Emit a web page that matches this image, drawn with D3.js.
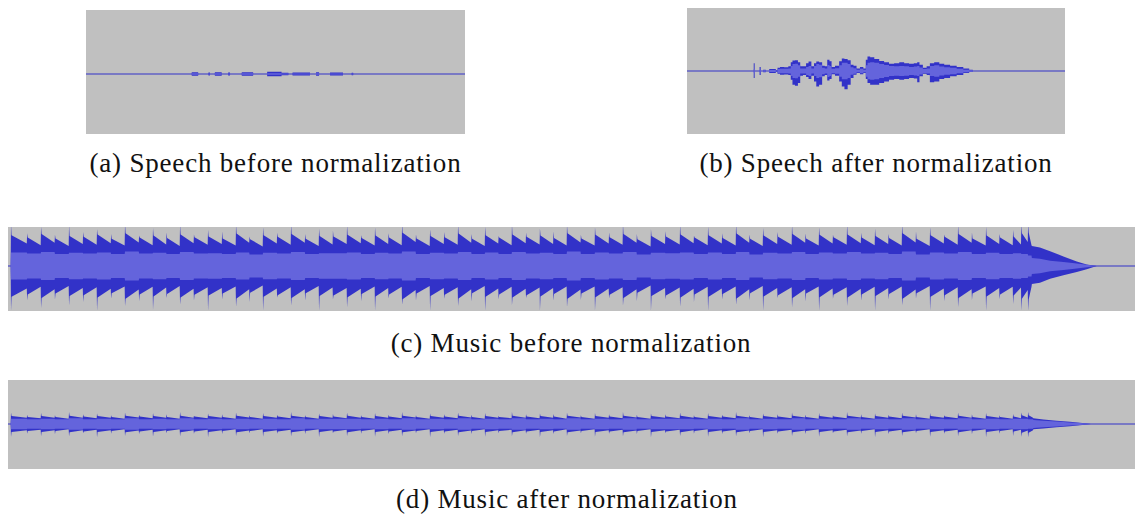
<!DOCTYPE html>
<html>
<head>
<meta charset="utf-8">
<script src="https://cdn.jsdelivr.net/npm/d3@7"></script>
<style>
  html, body { margin: 0; padding: 0; background: #fff; }
  .caption { font-family: "Liberation Serif", "DejaVu Serif", serif; font-size: 27px; letter-spacing: 0.8px; fill: #111; }
</style>
</head>
<body>
<div id="vis"></div>
<script>
var W = 1135,
    H = 517,
    waveDark = "#3232c8",
    waveLight = "#6464dc",
    trackBg = "#c0c0c0";

// (a) speech before normalization: bursts (seconds) and their peak level
const speechBeforeStart = [2.79, 3.23, 3.40, 3.75, 4.11, 4.78, 5.16, 5.45, 6.07, 6.44, 7.01];
const speechBeforeEnd   = [2.96, 3.27, 3.58, 3.80, 4.41, 5.16, 5.34, 5.91, 6.15, 6.78, 7.05];
const speechBeforePeak  = [0.03, 0.025, 0.03, 0.025, 0.03, 0.035, 0.02, 0.025, 0.03, 0.025, 0.02];

// (b) speech after normalization: envelope samples (seconds, max, |min|, rms)
const speechAfterTime = [
  0, 1.75, 1.78, 1.80, 1.82, 1.91, 1.93, 1.97, 2.06, 2.11,
  2.24, 2.33, 2.37, 2.42, 2.50, 2.64, 2.72, 2.77, 2.81, 2.90,
  2.97, 3.02, 3.12, 3.18, 3.25, 3.33, 3.39, 3.45, 3.54, 3.61,
  3.68, 3.74, 3.80, 3.85, 3.98, 4.07, 4.12, 4.21, 4.29, 4.37,
  4.44, 4.53, 4.62, 4.71, 4.75, 4.80, 4.89, 5.02, 5.15, 5.28,
  5.41, 5.55, 5.68, 5.81, 5.94, 6.06, 6.12, 6.18, 6.30, 6.38,
  6.47, 6.61, 6.74, 6.87, 7.05, 7.22, 7.40, 7.53, 7.59, 10];
const speechAfterMax = [
  0, 0, 0.125, 0, 0, 0, 0.065, 0, 0.02, 0,
  0.03, 0.03, 0.01, 0.05, 0.065, 0.06, 0.075, 0.14, 0.165, 0.17,
  0.14, 0.075, 0.075, 0.125, 0.15, 0.075, 0.125, 0.15, 0.14, 0.085,
  0.075, 0.18, 0.155, 0.065, 0.085, 0.155, 0.20, 0.19, 0.17, 0.10,
  0.085, 0.04, 0.065, 0.04, 0.18, 0.23, 0.22, 0.19, 0.16, 0.14,
  0.115, 0.125, 0.14, 0.125, 0.115, 0.125, 0.14, 0.10, 0.05, 0.075,
  0.125, 0.14, 0.115, 0.10, 0.085, 0.065, 0.04, 0.02, 0, 0];
const speechAfterMin = [
  0, 0, 0.11, 0, 0, 0, 0.065, 0, 0.02, 0,
  0.03, 0.03, 0.01, 0.045, 0.06, 0.055, 0.065, 0.14, 0.22, 0.235,
  0.19, 0.075, 0.065, 0.095, 0.125, 0.075, 0.165, 0.245, 0.22, 0.085,
  0.065, 0.15, 0.125, 0.05, 0.075, 0.165, 0.245, 0.29, 0.22, 0.11,
  0.06, 0.03, 0.05, 0.03, 0.125, 0.19, 0.22, 0.22, 0.19, 0.165,
  0.14, 0.125, 0.14, 0.125, 0.11, 0.12, 0.18, 0.085, 0.045, 0.065,
  0.18, 0.165, 0.125, 0.11, 0.085, 0.065, 0.03, 0.01, 0, 0];
const speechAfterRms = [
  0, 0, 0.03, 0, 0, 0, 0.02, 0, 0.01, 0,
  0.015, 0.015, 0.005, 0.03, 0.035, 0.035, 0.04, 0.08, 0.11, 0.115,
  0.09, 0.04, 0.04, 0.065, 0.08, 0.04, 0.08, 0.11, 0.10, 0.05,
  0.04, 0.095, 0.08, 0.035, 0.045, 0.09, 0.13, 0.13, 0.11, 0.06,
  0.045, 0.02, 0.035, 0.02, 0.09, 0.13, 0.14, 0.13, 0.11, 0.095,
  0.08, 0.075, 0.08, 0.075, 0.065, 0.07, 0.08, 0.055, 0.03, 0.04,
  0.08, 0.09, 0.07, 0.06, 0.05, 0.035, 0.02, 0.01, 0, 0];

// music: beat onsets (seconds), shared by (c) and (d)
const musicOnsets = [
  0.16, 1.02, 1.76, 2.50, 3.25, 4.00, 4.74, 5.49, 6.23, 6.98,
  7.72, 8.44, 9.16, 9.90, 10.65, 11.40, 12.14, 12.86, 13.58, 14.33,
  15.07, 15.82, 16.56, 17.30, 18.05, 18.80, 19.54, 20.26, 20.98, 21.72,
  22.47, 23.22, 23.96, 24.68, 25.40, 26.12, 26.83, 27.58, 28.32, 29.04,
  29.76, 30.50, 31.25, 32.00, 32.74, 33.48, 34.23, 35.00, 35.78, 36.52,
  37.27, 38.02, 38.76, 39.48, 40.20, 40.97, 41.74, 42.46, 43.18, 43.92,
  44.67, 45.42, 46.16, 46.88, 47.60, 48.34, 49.09, 49.84, 50.58, 51.32,
  52.07, 52.79, 53.51, 53.95, 54.31];

// (c) music before normalization, per beat: spike up, spike down, level after spike, level before next beat, rms
const musicBeforeTop = [
  1.05, 0.82, 0.98, 0.78, 1.02, 0.85, 0.92, 0.80, 1.05, 0.76,
  0.95, 0.84, 1.03, 0.79, 0.90, 0.86, 1.02, 0.74, 0.97, 0.83,
  1.04, 0.80, 0.93, 0.88, 1.02, 0.77, 0.96, 0.82, 1.05, 0.79,
  0.91, 0.85, 1.03, 0.80, 0.98, 0.75, 1.04, 0.83, 0.94, 0.86,
  1.02, 0.78, 0.97, 0.84, 1.05, 0.80, 0.92, 0.87, 1.03, 0.76,
  0.99, 0.82, 1.04, 0.79, 0.95, 0.85, 1.02, 0.81, 0.96, 0.78,
  1.05, 0.83, 0.93, 0.80, 1.03, 0.86, 0.97, 0.79, 1.02, 0.84,
  0.98, 0.80, 0.90, 1.05, 1.05];
const musicBeforeBottom = [
  1.12, 0.86, 1.05, 0.84, 0.98, 0.90, 1.12, 0.82, 1.00, 0.88,
  1.10, 0.80, 0.96, 0.86, 1.12, 0.84, 1.02, 0.90, 1.12, 0.79,
  0.99, 0.87, 1.12, 0.83, 1.04, 0.88, 1.12, 0.81, 0.97, 0.86,
  1.12, 0.82, 1.00, 0.89, 1.12, 0.84, 0.98, 0.80, 1.12, 0.87,
  1.03, 0.85, 1.12, 0.81, 0.99, 0.88, 1.12, 0.83, 1.02, 0.90,
  1.12, 0.84, 0.97, 0.86, 1.12, 0.80, 1.04, 0.89, 1.12, 0.82,
  1.00, 0.87, 1.12, 0.84, 0.98, 0.81, 1.12, 0.88, 1.03, 0.85,
  1.12, 0.83, 0.95, 1.12, 1.12];
const musicBeforeBody = [
  0.77, 0.71, 0.80, 0.69, 0.75, 0.73, 0.79, 0.68, 0.82, 0.71,
  0.76, 0.70, 0.79, 0.72, 0.74, 0.69, 0.81, 0.67, 0.77, 0.73,
  0.80, 0.68, 0.75, 0.74, 0.78, 0.70, 0.76, 0.71, 0.83, 0.69,
  0.75, 0.72, 0.81, 0.68, 0.77, 0.71, 0.79, 0.73, 0.76, 0.70,
  0.82, 0.69, 0.78, 0.72, 0.80, 0.67, 0.75, 0.74, 0.79, 0.71,
  0.77, 0.70, 0.81, 0.68, 0.76, 0.73, 0.80, 0.69, 0.78, 0.72,
  0.79, 0.71, 0.75, 0.70, 0.82, 0.68, 0.77, 0.73, 0.80, 0.69,
  0.76, 0.71, 0.74, 0.82, 0.84];
const musicBeforeTail = [
  0.56, 0.52, 0.58, 0.50, 0.55, 0.53, 0.57, 0.51, 0.59, 0.52,
  0.54, 0.50, 0.57, 0.53, 0.55, 0.51, 0.58, 0.49, 0.56, 0.53,
  0.58, 0.50, 0.54, 0.55, 0.57, 0.51, 0.55, 0.52, 0.60, 0.50,
  0.55, 0.53, 0.58, 0.50, 0.56, 0.52, 0.57, 0.54, 0.55, 0.51,
  0.59, 0.51, 0.56, 0.53, 0.58, 0.49, 0.55, 0.54, 0.57, 0.52,
  0.56, 0.51, 0.58, 0.50, 0.55, 0.53, 0.58, 0.51, 0.56, 0.53,
  0.57, 0.52, 0.55, 0.51, 0.59, 0.50, 0.56, 0.53, 0.58, 0.51,
  0.55, 0.52, 0.54, 0.60, 0.52];
const musicBeforeRms = [
  0.34, 0.31, 0.35, 0.30, 0.33, 0.31, 0.34, 0.30, 0.36, 0.31,
  0.33, 0.30, 0.35, 0.31, 0.32, 0.30, 0.34, 0.29, 0.33, 0.31,
  0.35, 0.30, 0.32, 0.32, 0.34, 0.30, 0.33, 0.31, 0.36, 0.30,
  0.33, 0.31, 0.35, 0.30, 0.34, 0.30, 0.35, 0.31, 0.33, 0.30,
  0.36, 0.30, 0.34, 0.31, 0.35, 0.29, 0.33, 0.32, 0.34, 0.30,
  0.34, 0.30, 0.35, 0.29, 0.33, 0.31, 0.35, 0.30, 0.34, 0.31,
  0.35, 0.31, 0.33, 0.30, 0.36, 0.29, 0.34, 0.31, 0.35, 0.30,
  0.33, 0.30, 0.32, 0.30, 0.26];
// fade out after the last hit
const musicBeforeFadeTime   = [54.51, 54.94, 55.48, 56.19, 56.90, 57.43, 57.96];
const musicBeforeFadeTop    = [0.50, 0.46, 0.37, 0.24, 0.11, 0.04, 0];
const musicBeforeFadeBottom = [0.45, 0.42, 0.32, 0.23, 0.15, 0.08, 0];
const musicBeforeFadeRms    = [0.20, 0.18, 0.13, 0.10, 0.06, 0.03, 0];

// (d) music after normalization, same layout as (c)
const musicAfterTop = [
  0.26, 0.21, 0.25, 0.20, 0.27, 0.22, 0.24, 0.20, 0.26, 0.21,
  0.25, 0.22, 0.27, 0.19, 0.24, 0.22, 0.26, 0.20, 0.25, 0.21,
  0.27, 0.20, 0.24, 0.23, 0.26, 0.20, 0.25, 0.21, 0.27, 0.20,
  0.24, 0.22, 0.26, 0.21, 0.25, 0.19, 0.27, 0.22, 0.24, 0.23,
  0.26, 0.20, 0.25, 0.22, 0.27, 0.21, 0.24, 0.22, 0.26, 0.20,
  0.25, 0.21, 0.27, 0.20, 0.24, 0.22, 0.26, 0.21, 0.25, 0.20,
  0.27, 0.22, 0.24, 0.21, 0.26, 0.22, 0.25, 0.20, 0.26, 0.22,
  0.25, 0.20, 0.23, 0.26, 0.27];
const musicAfterBottom = [
  0.29, 0.22, 0.27, 0.23, 0.28, 0.21, 0.30, 0.22, 0.27, 0.23,
  0.29, 0.21, 0.28, 0.22, 0.30, 0.23, 0.27, 0.21, 0.29, 0.22,
  0.28, 0.23, 0.30, 0.21, 0.27, 0.22, 0.29, 0.23, 0.28, 0.21,
  0.30, 0.22, 0.27, 0.23, 0.29, 0.21, 0.28, 0.22, 0.30, 0.23,
  0.27, 0.21, 0.29, 0.22, 0.28, 0.23, 0.30, 0.21, 0.27, 0.22,
  0.29, 0.23, 0.28, 0.21, 0.30, 0.22, 0.27, 0.23, 0.29, 0.21,
  0.28, 0.22, 0.30, 0.23, 0.27, 0.21, 0.29, 0.22, 0.28, 0.23,
  0.30, 0.22, 0.27, 0.29, 0.30];
const musicAfterBody = [
  0.18, 0.16, 0.18, 0.16, 0.19, 0.17, 0.18, 0.16, 0.19, 0.17,
  0.18, 0.16, 0.19, 0.17, 0.18, 0.16, 0.19, 0.16, 0.18, 0.17,
  0.19, 0.16, 0.18, 0.17, 0.19, 0.16, 0.18, 0.17, 0.19, 0.16,
  0.18, 0.17, 0.19, 0.16, 0.18, 0.16, 0.19, 0.17, 0.18, 0.17,
  0.19, 0.16, 0.18, 0.17, 0.19, 0.16, 0.18, 0.17, 0.19, 0.16,
  0.18, 0.17, 0.19, 0.16, 0.18, 0.17, 0.19, 0.16, 0.18, 0.17,
  0.19, 0.16, 0.18, 0.17, 0.19, 0.16, 0.18, 0.17, 0.19, 0.16,
  0.18, 0.16, 0.17, 0.20, 0.20];
const musicAfterTail = [
  0.14, 0.13, 0.14, 0.12, 0.14, 0.13, 0.14, 0.12, 0.15, 0.13,
  0.14, 0.12, 0.14, 0.13, 0.14, 0.12, 0.15, 0.12, 0.14, 0.13,
  0.15, 0.12, 0.14, 0.13, 0.14, 0.12, 0.14, 0.13, 0.15, 0.12,
  0.14, 0.13, 0.15, 0.12, 0.14, 0.13, 0.14, 0.13, 0.14, 0.12,
  0.15, 0.12, 0.14, 0.13, 0.15, 0.12, 0.14, 0.13, 0.14, 0.12,
  0.14, 0.13, 0.15, 0.12, 0.14, 0.13, 0.15, 0.12, 0.14, 0.13,
  0.15, 0.12, 0.14, 0.13, 0.15, 0.12, 0.14, 0.13, 0.14, 0.12,
  0.14, 0.12, 0.13, 0.15, 0.14];
const musicAfterRms = [
  0.12, 0.11, 0.12, 0.11, 0.13, 0.11, 0.12, 0.11, 0.13, 0.11,
  0.12, 0.11, 0.13, 0.11, 0.12, 0.11, 0.12, 0.11, 0.12, 0.11,
  0.13, 0.11, 0.12, 0.12, 0.12, 0.11, 0.12, 0.11, 0.13, 0.11,
  0.12, 0.11, 0.13, 0.11, 0.12, 0.11, 0.13, 0.11, 0.12, 0.11,
  0.13, 0.11, 0.12, 0.11, 0.13, 0.11, 0.12, 0.12, 0.12, 0.11,
  0.12, 0.11, 0.13, 0.11, 0.12, 0.11, 0.13, 0.11, 0.12, 0.11,
  0.13, 0.11, 0.12, 0.11, 0.13, 0.11, 0.12, 0.11, 0.13, 0.11,
  0.12, 0.11, 0.12, 0.12, 0.11];
const musicAfterFadeTime   = [54.59, 55.12, 55.83, 56.54, 57.07, 57.64];
const musicAfterFadeTop    = [0.13, 0.105, 0.075, 0.05, 0.03, 0];
const musicAfterFadeBottom = [0.12, 0.105, 0.075, 0.05, 0.03, 0];
const musicAfterFadeRms    = [0.09, 0.075, 0.055, 0.035, 0.02, 0];

const captions = [
  "(a) Speech before normalization",
  "(b) Speech after normalization",
  "(c) Music before normalization",
  "(d) Music after normalization"];

// Envelope made of flat bursts.
function burstEnvelope(starts, ends, peaks, dur) {
  var pts = [{t: 0, hi: 0, lo: 0, rms: 0}];
  starts.forEach(function(s, i) {
    pts.push({t: s - 0.001, hi: 0, lo: 0, rms: 0});
    pts.push({t: s, hi: peaks[i], lo: peaks[i], rms: peaks[i] * 0.4});
    pts.push({t: ends[i], hi: peaks[i], lo: peaks[i], rms: peaks[i] * 0.4});
    pts.push({t: ends[i] + 0.001, hi: 0, lo: 0, rms: 0});
  });
  pts.push({t: dur, hi: 0, lo: 0, rms: 0});
  return pts;
}

function sampledEnvelope(times, max, min, rms) {
  return times.map(function(t, i) {
    return {t: t, hi: max[i], lo: min[i], rms: rms[i]};
  });
}

// Beat envelope: thin spike at each onset, drop to the body level, sag to the tail.
function beatEnvelope(onsets, top, bottom, body, tail, rms, fT, fTop, fBot, fRms, dur) {
  var pts = [{t: 0, hi: 0, lo: 0, rms: 0}, {t: onsets[0] - 0.02, hi: 0, lo: 0, rms: 0}];
  onsets.forEach(function(t, i) {
    var next = i < onsets.length - 1 ? onsets[i + 1] : fT[0];
    pts.push({t: t, hi: top[i], lo: bottom[i], rms: rms[i]});
    pts.push({t: t + 0.03, hi: body[i], lo: body[i], rms: rms[i]});
    pts.push({t: next - 0.02, hi: tail[i], lo: tail[i], rms: rms[i]});
  });
  fT.forEach(function(t, i) {
    pts.push({t: t, hi: fTop[i], lo: fBot[i], rms: fRms[i]});
  });
  pts.push({t: dur, hi: 0, lo: 0, rms: 0});
  return pts;
}

var panels = [
  {x: 86, y: 10, w: 379, h: 124, zero: 74, unit: 62, dur: 10, cx: 275.5, cy: 172, curve: d3.curveLinear,
   env: burstEnvelope(speechBeforeStart, speechBeforeEnd, speechBeforePeak, 10)},
  {x: 687, y: 8, w: 378, h: 126, zero: 71, unit: 63, dur: 10, cx: 876, cy: 172, curve: d3.curveStep,
   env: sampledEnvelope(speechAfterTime, speechAfterMax, speechAfterMin, speechAfterRms)},
  {x: 8, y: 227, w: 1127, h: 84, zero: 266, unit: 40, dur: 60, cx: 571, cy: 352, curve: d3.curveLinear,
   env: beatEnvelope(musicOnsets, musicBeforeTop, musicBeforeBottom, musicBeforeBody, musicBeforeTail,
     musicBeforeRms, musicBeforeFadeTime, musicBeforeFadeTop, musicBeforeFadeBottom, musicBeforeFadeRms, 60)},
  {x: 8, y: 380, w: 1127, h: 89, zero: 424, unit: 44, dur: 60, cx: 567, cy: 508, curve: d3.curveLinear,
   env: beatEnvelope(musicOnsets, musicAfterTop, musicAfterBottom, musicAfterBody, musicAfterTail,
     musicAfterRms, musicAfterFadeTime, musicAfterFadeTop, musicAfterFadeBottom, musicAfterFadeRms, 60)}
];

var svg = d3.select("#vis").append("svg")
    .attr("width", W)
    .attr("height", H);

panels.forEach(function(p, i) {
  var x = d3.scaleLinear().domain([0, p.dur]).range([p.x, p.x + p.w]),
      y = d3.scaleLinear().domain([-1, 1]).range([p.zero + p.unit, p.zero - p.unit]);

  svg.append("clipPath").attr("id", "clip" + i)
    .append("rect")
      .attr("x", p.x).attr("y", p.y)
      .attr("width", p.w).attr("height", p.h);

  var g = svg.append("g").attr("clip-path", "url(#clip" + i + ")");

  g.append("rect")
      .attr("x", p.x).attr("y", p.y)
      .attr("width", p.w).attr("height", p.h)
      .attr("fill", trackBg);

  g.append("line")
      .attr("x1", p.x).attr("x2", p.x + p.w)
      .attr("y1", y(0)).attr("y2", y(0))
      .attr("stroke", waveDark)
      .attr("stroke-width", 1.2);

  var peak = d3.area()
      .curve(p.curve)
      .x(function(d) { return x(d.t); })
      .y0(function(d) { return y(-d.lo); })
      .y1(function(d) { return y(d.hi); });

  var rms = d3.area()
      .curve(p.curve)
      .x(function(d) { return x(d.t); })
      .y0(function(d) { return y(-d.rms); })
      .y1(function(d) { return y(d.rms); });

  g.append("path")
      .datum(p.env)
      .attr("d", peak)
      .attr("fill", waveDark);

  g.append("path")
      .datum(p.env)
      .attr("d", rms)
      .attr("fill", waveLight);

  svg.append("text")
      .attr("class", "caption")
      .attr("x", p.cx)
      .attr("y", p.cy)
      .attr("text-anchor", "middle")
      .text(captions[i]);
});
</script>
</body>
</html>
